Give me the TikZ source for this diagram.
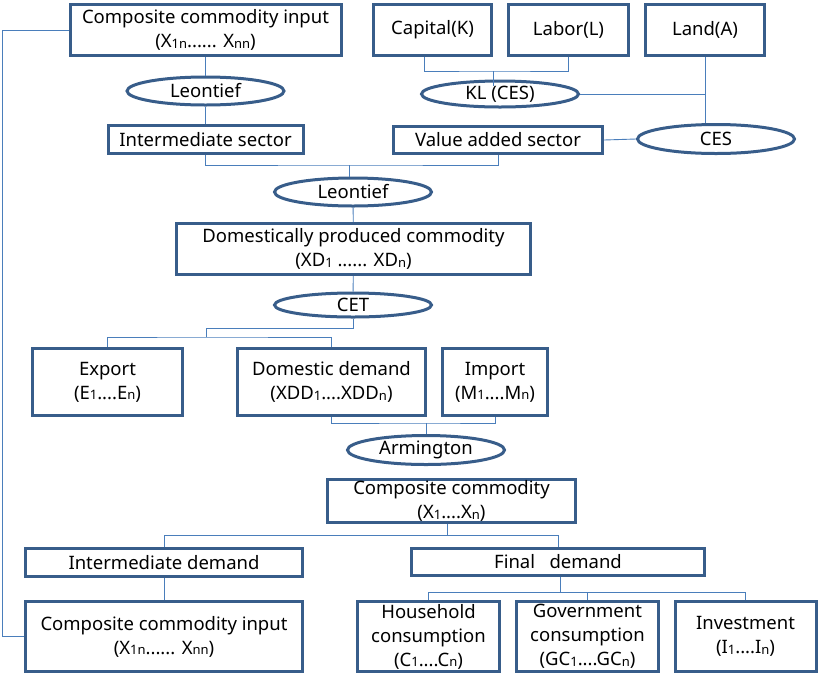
\documentclass[tikz,border=0pt]{standalone}
\usepackage{fontspec}
\setmainfont{Noto Sans}
\usetikzlibrary{shapes.geometric}
\definecolor{marco}{HTML}{385D8A}
\definecolor{enlace}{HTML}{4A7EBB}
\newcommand{\sub}[1]{\raisebox{-0.6pt}{\fontsize{13}{13}\selectfont #1}}
\tikzset{
  caja/.style={draw=marco, line width=3pt, align=center, inner sep=0pt, font=\fontsize{18.5}{24}\selectfont},
  elipse/.style={ellipse, draw=marco, line width=3pt, inner sep=0pt, minimum width=157, minimum height=28, font=\fontsize{18.5}{24}\selectfont},
  conector/.style={draw=enlace, line width=0.9pt},
}
\begin{document}
\begin{tikzpicture}[x=1pt,y=-1pt]
            \useasboundingbox (0,0) rectangle (819,681); % Marco de la figura

            % Insumos y factores
            \node[caja, minimum width=271, minimum height=51] (cciA) at (205.5,30) {Composite commodity input\\(X\sub{1n}...... X\sub{nn})}; % Insumo compuesto (arriba)
            \node[caja, minimum width=118, minimum height=51] (cap) at (432.5,30) {Capital(K)}; % Capital
            \node[caja, minimum width=120, minimum height=51] (lab) at (568.5,30) {Labor(L)}; % Trabajo
            \node[caja, minimum width=119, minimum height=51] (land) at (705,30) {Land(A)}; % Tierra

            % Primer nivel de funciones
            \node[elipse] (leo1) at (205.5,91) {Leontief}; % Leontief de insumos
            \node[elipse, minimum height=26] (kl) at (500,94) {KL (CES)}; % Capital-trabajo
            \node[caja, minimum width=195, minimum height=28] (inter) at (205.5,139.5) {Intermediate sector}; % Sector intermedio
            \node[caja, minimum width=209, minimum height=27] (va) at (498,140) {Value added sector}; % Valor agregado
            \node[elipse, minimum height=29] (ces) at (716,139) {CES}; % CES valor agregado

            % Produccion domestica
            \node[elipse] (leo2) at (353,192) {Leontief}; % Leontief de produccion
            \node[caja, minimum width=354, minimum height=51] (dpc) at (353.5,249) {Domestically produced commodity\\(XD\sub{1} ...... XD\sub{n})}; % Bien producido
            \node[elipse, minimum height=24] (cet) at (353,305) {CET}; % Transformacion CET

            % Comercio
            \node[caja, minimum width=150, minimum height=67] (exp) at (107.5,382) {Export\\(E\sub{1}....E\sub{n})}; % Exportaciones
            \node[caja, minimum width=188, minimum height=67] (dd) at (331.5,382) {Domestic demand\\(XDD\sub{1}....XDD\sub{n})}; % Demanda domestica
            \node[caja, minimum width=105, minimum height=67] (imp) at (495,382) {Import\\(M\sub{1}....M\sub{n})}; % Importaciones
            \node[elipse, minimum height=29] (arm) at (426,450) {Armington}; % Armington
            \node[caja, minimum width=248, minimum height=43] (cc) at (451.5,501) {Composite commodity\\(X\sub{1}....X\sub{n})}; % Bien compuesto

            % Demandas
            \node[caja, minimum width=277, minimum height=28] (idm) at (164,562.5) {Intermediate demand}; % Demanda intermedia
            \node[caja, minimum width=293, minimum height=27] (fdm) at (558,562) {Final\ \ \ demand}; % Demanda final
            \node[caja, minimum width=277, minimum height=70] (cciB) at (164,636.5) {Composite commodity input\\(X\sub{1n}...... X\sub{nn})}; % Insumo compuesto (abajo)
            \node[caja, minimum width=142, minimum height=70] (hh) at (428.5,636.5) {Household\\consumption\\(C\sub{1}....C\sub{n})}; % Hogares
            \node[caja, minimum width=142, minimum height=70] (gov) at (587.5,636.5) {Government\\consumption\\(GC\sub{1}....GC\sub{n})}; % Gobierno
            \node[caja, minimum width=141, minimum height=70] (inv) at (745.5,636.5) {Investment\\(I\sub{1}....I\sub{n})}; % Inversion

            % Puntos de union
            \coordinate (j1) at (349,165); % Union de sectores
            \coordinate (j2) at (493,71); % Union capital-trabajo
            \coordinate (j3) at (206,328); % Salida CET
            \coordinate (j4) at (206,337); % Reparto CET
            \coordinate (j5) at (426,423); % Union Armington
            \coordinate (j6) at (447,535); % Reparto bien compuesto
            \coordinate (j7) at (560,592); % Reparto demanda final

            % Conectores
            \draw[conector] (cciA) -- (leo1); % Insumo a Leontief
            \draw[conector] (leo1) -- (inter); % Leontief a sector intermedio
            \draw[conector] (inter.south) |- (j1) -| (va.south); % Sectores unidos
            \draw[conector] (j1) -- (j1 |- leo2.north); % A Leontief de produccion
            \draw[conector] ([xshift=-8pt]cap.south) |- (j2) -| (lab.south); % Capital y trabajo
            \draw[conector] (j2) -- ([yshift=-6pt]j2 |- kl.north); % A KL
            \draw[conector] (land.south) -- (land.south |- ces.north); % Tierra a CES
            \draw[conector] (kl.east) -- (kl.east -| land.south); % KL a la linea de tierra
            \draw[conector] (va.east) -- (ces.west); % Valor agregado a CES
            \draw[conector] (leo2) -- (dpc); % Leontief a produccion
            \draw[conector] (dpc) -- (cet); % Produccion a CET
            \draw[conector] (cet.south) |- (j3) -- (j4); % Salida CET
            \draw[conector] (exp.north) |- (j4) -| (dd.north); % Exportacion y demanda domestica
            \draw[conector] (dd.south) |- (j5) -| (imp.south); % Domestica e importacion
            \draw[conector] (j5) -- (arm.north); % A Armington
            \draw[conector] (j6 |- cc.south) -- (j6); % Salida bien compuesto
            \draw[conector] (idm.north) |- (j6) -| (fdm.north); % Demandas
            \draw[conector] (idm) -- (cciB); % Demanda intermedia a insumo
            \draw[conector] (j7 |- fdm.south) -- (j7); % Salida demanda final
            \draw[conector] (hh.north) |- (j7) -| (inv.north); % Hogares e inversion
            \draw[conector] (gov.north) -- (gov.north |- j7); % Gobierno
            \draw[conector] (cciB.west) -- ++(-22,0) |- (cciA.west); % Retroalimentacion
\end{tikzpicture}
\end{document}
